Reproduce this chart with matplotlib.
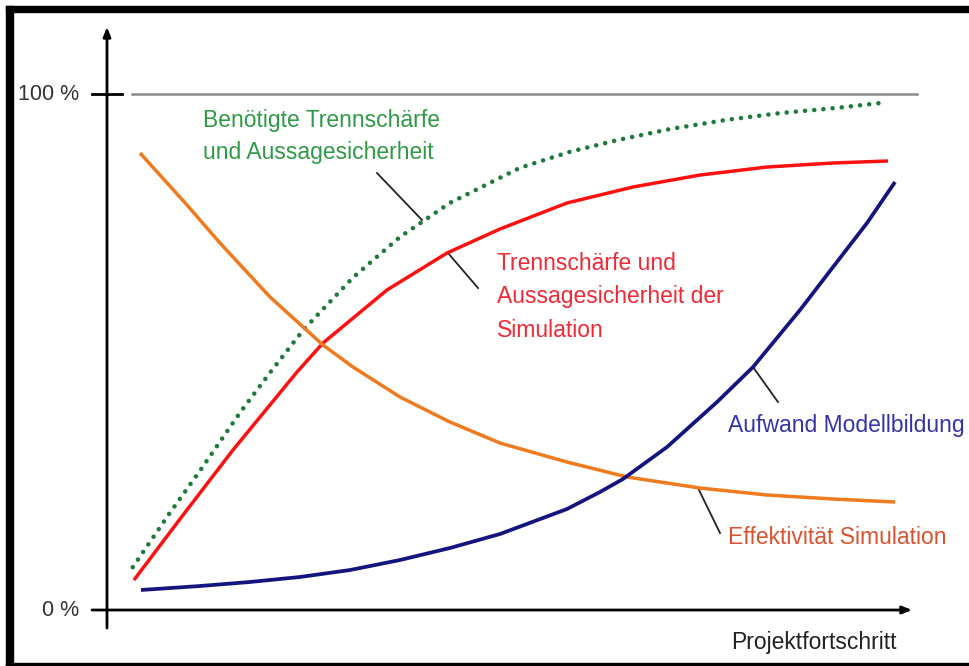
"""
    Projektfortschritt vs. Trennschaerfe / Aufwand / Effektivitaet
"""
import numpy as np
import matplotlib.pyplot as plt
from matplotlib.patches import Rectangle

# x: Projektfortschritt in %, y: Anteil in %
green_x = [3.2, 7.8, 11.6, 16.5, 20.3, 24.4, 30.6, 36.4, 42.6, 51.3, 57.5, 63.5, 69.9, 77.0, 83.6, 90.6, 96.9]
green_y = [8.3, 18.8, 27.1, 38.2, 46.1, 54.3, 64.5, 72.3, 78.9, 85.7, 88.8, 91.1, 93.2, 95.0, 96.3, 97.3, 98.4]

red_x = [3.35, 9.07, 15.65, 23.6, 26.83, 34.78, 42.24, 48.82, 57.14, 65.34, 73.66, 81.99, 90.19, 97.02]
red_y = [5.81, 17.64, 31.01, 46.12, 51.74, 62.02, 69.19, 73.84, 78.88, 81.98, 84.3, 85.85, 86.63, 87.02]

orange_x = [4.1, 9.94, 14.04, 20.25, 26.83, 30.56, 36.4, 42.61, 48.82, 57.14, 64.6, 73.66, 81.99, 90.19, 97.89]
orange_y = [88.57, 78.49, 71.12, 60.66, 51.36, 47.09, 41.28, 36.43, 32.36, 28.68, 25.78, 23.64, 22.29, 21.51, 20.93]

blue_x = [4.22, 11.55, 17.76, 23.98, 30.19, 36.4, 42.61, 48.82, 57.14, 61.24, 64.1, 69.57, 75.78, 80.25, 86.09, 90.19, 94.41, 97.89]
blue_y = [3.88, 4.65, 5.43, 6.4, 7.75, 9.69, 12.02, 14.73, 19.57, 22.87, 25.39, 31.59, 40.31, 47.09, 58.14, 66.47, 75.0, 82.95]

green_label = ["Benötigte Trennschärfe", "und Aussagesicherheit"]
red_label = ["Trennschärfe und", "Aussagesicherheit der", "Simulation"]
blue_label = "Aufwand Modellbildung"
orange_label = "Effektivität Simulation"
x_label = "Projektfortschritt"
y_ticks = [0, 100]
y_ticklabels = ["0 %", "100 %"]

plt.rcParams['font.family'] = ['Liberation Sans', 'DejaVu Sans']

fig = plt.figure(figsize=(9.69, 6.66), dpi=100)
ax = fig.add_axes([0, 0, 1, 1])
ax.set_xlim(-13.29, 107.08)
ax.set_ylim(-10.85, 118.22)
ax.axis('off')

# black frame (top, left, bottom) like the screenshot
for (x0, y0, w, h) in [(6, 654, 963, 6), (6, 0, 7, 660), (6, 0, 963, 3)]:
    fig.patches.append(Rectangle((x0 / 969, y0 / 666), w / 969, h / 666,
                                 transform=fig.transFigure, color='black', zorder=0))

# axes with arrows
arrow = dict(arrowstyle='-|>,head_length=0.55,head_width=0.22', lw=2.0, color='black',
             shrinkA=0, shrinkB=0)
ax.annotate('', xy=(0, 113.0), xytext=(0, -3.5), arrowprops=arrow)
ax.annotate('', xy=(100.0, 0), xytext=(-1.86, 0), arrowprops=arrow)
ax.plot([-1.86, 1.86], [100, 100], color='black', lw=2.0)
ax.plot([3.1, 100.6], [100, 100], color='#8a8a8a', lw=1.8)

for val, lab in zip(y_ticks, y_ticklabels):
    ax.text(-3.4, val, lab, ha='right', va='center', fontsize=15.5, color='#333333')
ax.text(98.1, -6.2, x_label, ha='right', va='center', fontsize=16.5, color='#222222')

# curves
line_kw = dict(zorder=3, solid_capstyle='butt', solid_joinstyle='round')
ax.plot(green_x, green_y, color='#1e7a3c', lw=3.3, linestyle=(0, (0.01, 2.0)),
        dash_capstyle='round', dash_joinstyle='round', zorder=3)
ax.plot(red_x, red_y, color='#ff1010', lw=2.5, **line_kw)
ax.plot(orange_x, orange_y, color='#f07a1e', lw=2.5, **line_kw)
ax.plot(blue_x, blue_y, color='#14147e', lw=2.7, **line_kw)

# pointer lines
pointers = [((33.54, 84.69), (39.13, 75.58)),
            ((42.36, 69.19), (46.09, 62.4)),
            ((80.25, 47.09), (83.35, 40.31)),
            ((73.42, 23.64), (76.15, 14.92))]
for p0, p1 in pointers:
    ax.plot([p0[0], p1[0]], [p0[1], p1[1]], color='#222222', lw=1.3, zorder=2)

# labels
for i, line in enumerate(green_label):
    ax.text(11.9, 94.96 - i * 6.2, line, ha='left', va='center', fontsize=16.5, color='#2f9a45')
for i, line in enumerate(red_label):
    ax.text(48.4, 67.25 - i * 6.5, line, ha='left', va='center', fontsize=16.5, color='#ee2a36')
ax.text(77.2, 35.85, blue_label, ha='left', va='center', fontsize=16.5, color='#3434a8')
ax.text(77.2, 14.15, orange_label, ha='left', va='center', fontsize=16.5, color='#d9532e')

fig.savefig("out.png", dpi=100)
